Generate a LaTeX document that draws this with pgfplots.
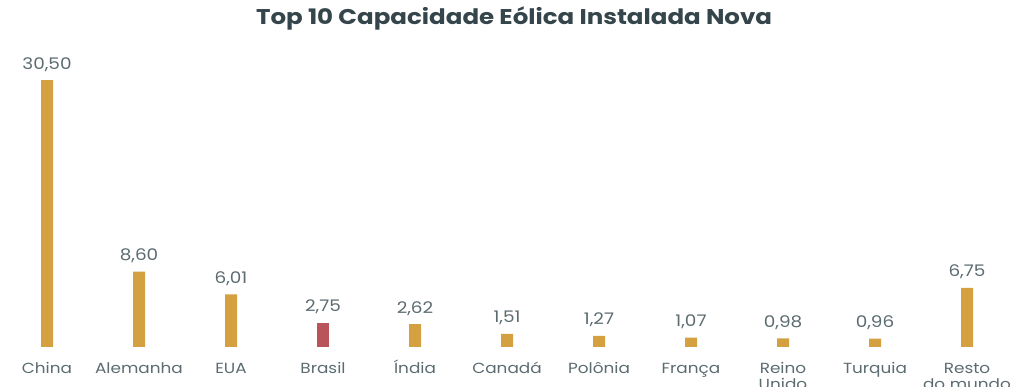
\documentclass[border=0pt]{standalone}
\usepackage{pgfplots}
\pgfplotsset{compat=1.18}
\usepackage{pgfplotstable}
\usepackage{fontspec}
\setmainfont{Poppins}[FakeStretch=1.15]
\definecolor{gold}{HTML}{D4A040}
\definecolor{redb}{HTML}{B9545A}
\definecolor{txt}{HTML}{5B6B70}
\definecolor{ttl}{HTML}{34454B}
\pgfplotstableread{
x y lab
0 30.50 30,50
1 8.60 8,60
2 6.01 6,01
4 2.62 2,62
5 1.51 1,51
6 1.27 1,27
7 1.07 1,07
8 0.98 0,98
9 0.96 0,96
10 6.75 6,75
}\datagold
\pgfplotstableread{
x y lab
3 2.75 2,75
}\databr
\newcommand\ls{\rule{0pt}{11.5pt}}
\begin{document}
\begin{tikzpicture}
\begin{axis}[name=ax,
  scale only axis, width=759pt, height=260.25pt,
  xmin=-0.5, xmax=10.5, ymin=0, ymax=39.64,
  xtick={0,...,10},
  xticklabels={\ls China,\ls Alemanha,\ls EUA,\ls Brasil,\ls Índia,\ls Canadá,\ls Polônia,\ls França,{\ls Reino\\Unido},\ls Turquia,{\ls Resto\\do mundo}},
  xticklabel style={align=center, font=\fontsize{11}{12}\selectfont, text=txt, anchor=north, yshift=-4.5pt},
  ytick=\empty,
  axis line style={draw=none},
  major tick length=0pt,
  clip=false,
  ybar, bar width=9pt, bar shift=0pt,
  nodes near coords, point meta=explicit symbolic,
  every node near coord/.append style={font=\fontsize{12}{13}\selectfont, text=txt, yshift=3pt},
]
\addplot[fill=gold, draw=none] table[x=x, y=y, meta=lab] {\datagold};
\addplot[fill=redb, draw=none] table[x=x, y=y, meta=lab] {\databr};
\node[font=\bfseries\fontsize{16}{18}\selectfont, text=ttl] at (rel axis cs:0.507,0.948) {Top 10 Capacidade Eólica Instalada Nova};
\end{axis}
\pgfresetboundingbox
\path[use as bounding box] ([xshift=-0.75pt,yshift=-30pt]ax.south west) rectangle (ax.north east);
\end{tikzpicture}
\end{document}
